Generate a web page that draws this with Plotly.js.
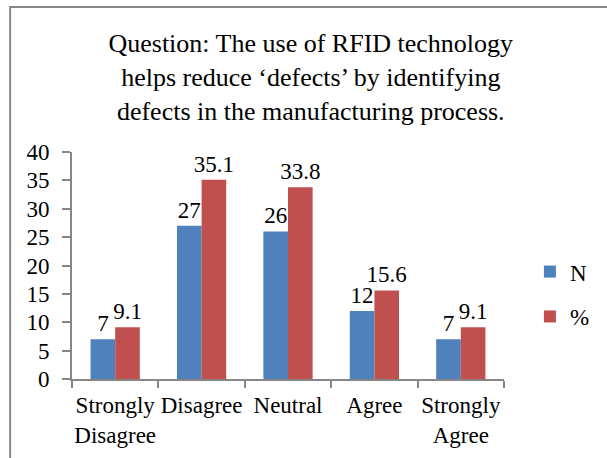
<!DOCTYPE html>
<html>
<head>
<meta charset="utf-8">
<script src="https://cdn.plot.ly/plotly-3.0.1.min.js"></script>
<style>
html,body{margin:0;padding:0;background:#fff;}
#chart{width:607px;height:458px;}
</style>
</head>
<body>
<div id="chart"></div>
<script>
const categories = ["Strongly<br>Disagree", "Disagree", "Neutral", "Agree", "Strongly<br>Agree"];
const seriesNames = ["N", "%"];
const nValues = [7, 27, 26, 12, 7];
const pctValues = [9.1, 35.1, 33.8, 15.6, 9.1];
const yTicks = [0, 5, 10, 15, 20, 25, 30, 35, 40];

const font = "'Liberation Serif', 'Times New Roman', serif";

const traces = [
  {
    type: "bar", name: seriesNames[0], x: categories, y: nValues,
    marker: {color: "#4F81BD"}, legendgroup: "a",
    text: nValues.map(String), textposition: "outside", cliponaxis: false,
    constraintext: "none",
    textfont: {family: font, size: 23, color: "#000"}
  },
  {
    type: "bar", name: seriesNames[1], x: categories, y: pctValues,
    marker: {color: "#C0504D"}, legendgroup: "b",
    text: pctValues.map(v => v.toFixed(1)), textposition: "outside", cliponaxis: false,
    constraintext: "none",
    textfont: {family: font, size: 23, color: "#000"}
  }
];

const layout = {
  width: 607, height: 458,
  margin: {l: 72, r: 95, t: 152, b: 79},
  paper_bgcolor: "#fff", plot_bgcolor: "#fff",
  font: {family: font, size: 23, color: "#000"},
  title: {
    text: "Question: The use of RFID technology<br>helps reduce ‘defects’ by identifying<br>defects in the manufacturing process.",
    font: {family: font, size: 26, color: "#000"},
    x: 0.512, xanchor: "center", xref: "container",
    y: 1 - 52 / 458, yanchor: "middle", yref: "container"
  },
  barmode: "group",
  bargap: 0.43, bargroupgap: 0,
  showlegend: true,
  legend: {x: 1.06, xanchor: "left", y: 0.374, yanchor: "middle",
           tracegroupgap: 12, traceorder: "grouped",
           font: {family: font, size: 23, color: "#000"}, bgcolor: "rgba(0,0,0,0)"},
  xaxis: {
    type: "category", tickson: "boundaries", ticks: "outside", ticklen: 7,
    tickangle: 0, ticklabelstandoff: 4,
    tickcolor: "#868686", tickwidth: 2, showline: true, linecolor: "#868686", linewidth: 2,
    showgrid: false, tickfont: {family: font, size: 23, color: "#000"}, automargin: false
  },
  yaxis: {
    range: [0, 40], tickvals: yTicks, ticktext: yTicks.map(String),
    ticks: "outside", ticklen: 8, tickcolor: "#868686", tickwidth: 2,
    ticklabelstandoff: 8,
    showline: true, linecolor: "#868686", linewidth: 2,
    showgrid: false, zeroline: false,
    tickfont: {family: font, size: 23, color: "#000"}, automargin: false
  },
  shapes: [{
    type: "rect", xref: "paper", yref: "paper",
    x0: (9 - 72) / 440, x1: 1.3, y0: -0.5, y1: (379 - 7) / 227,
    line: {color: "#888888", width: 2}, fillcolor: "rgba(0,0,0,0)", layer: "below"
  }]
};

Plotly.newPlot("chart", traces, layout, {displayModeBar: false, staticPlot: true});
</script>
</body>
</html>
